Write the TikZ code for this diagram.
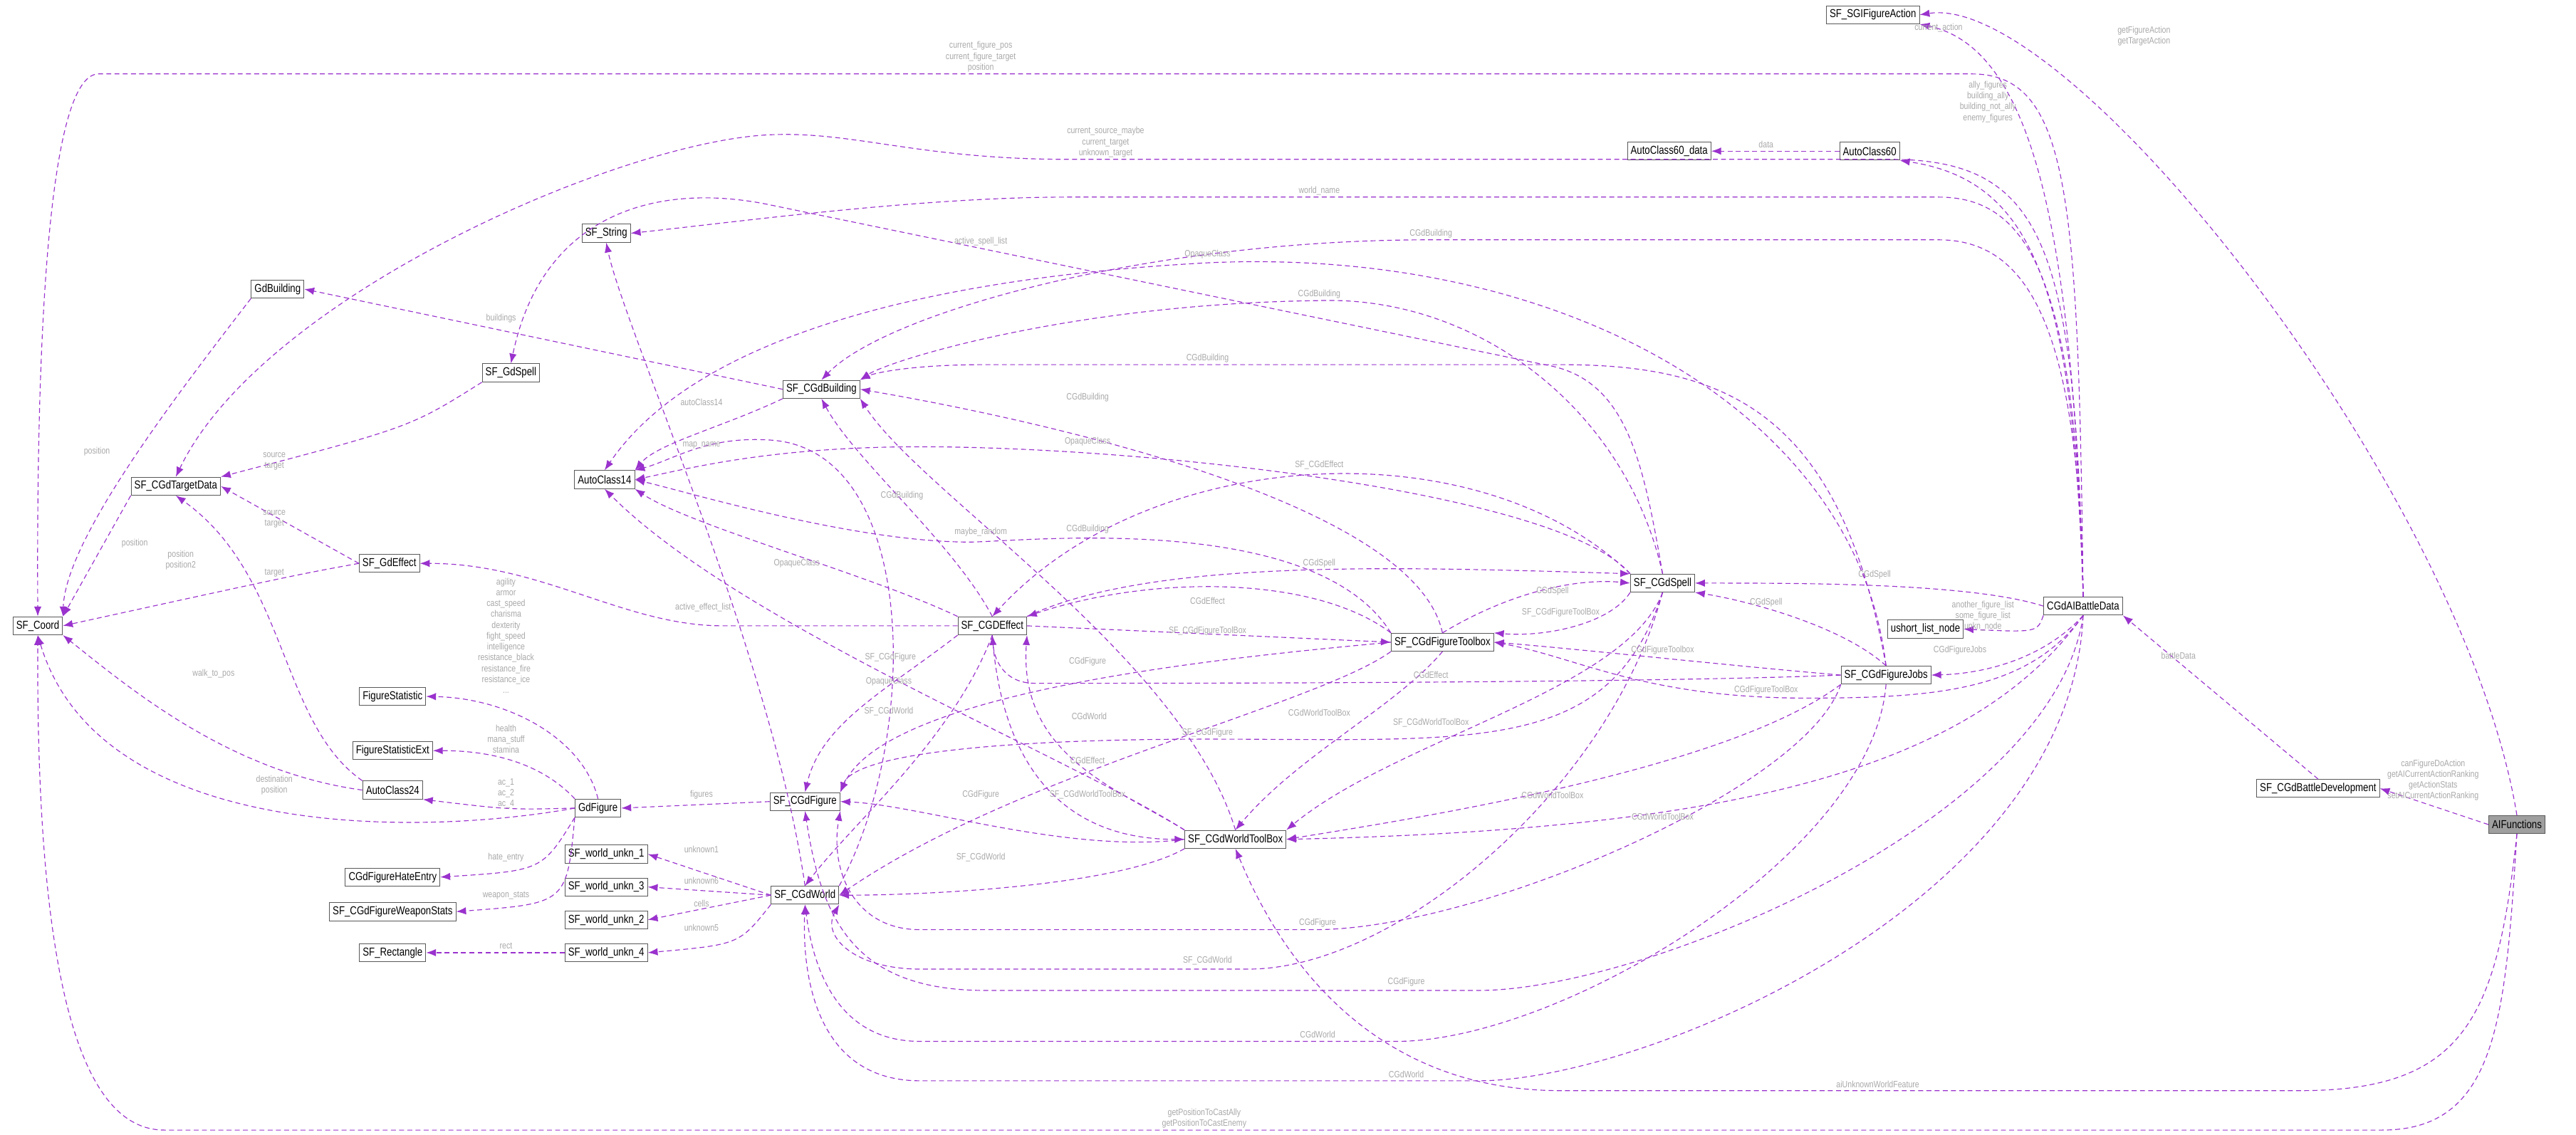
\documentclass[tikz,border=0pt]{standalone}
\usepackage{fontspec}
\setmainfont{Liberation Sans}[FakeStretch=0.82]
\usetikzlibrary{positioning, arrows.meta}
\definecolor{edgecol}{HTML}{9A32CD}
\definecolor{lblcol}{HTML}{A8A8A8}
\tikzset{
  cls/.style={draw=gray!70!black, fill=white, font=\fontsize{7}{8}\selectfont, inner sep=2pt, minimum height=11pt},
  dep/.style={edgecol, dash pattern=on 3pt off 2pt, line width=0.5pt, -{Latex[length=6pt,width=4.5pt]}},
  lbl/.style={font=\fontsize{5.6}{6.6}\selectfont, text=lblcol, align=center, inner sep=0pt}
}

\begin{document}
\begin{tikzpicture}[x=1pt, y=-1pt]

\useasboundingbox (0,0) rectangle (1568,691);

% classes
\node[cls] (sofa) at (1140,9) {SF\_SGIFigureAction};
\node[cls] (ac60d) at (1016,92) {AutoClass60\_data};
\node[cls] (ac60) at (1138,92) {AutoClass60};
\node[cls] (str) at (369,142) {SF\_String};
\node[cls] (gdb) at (169,176) {GdBuilding};
\node[cls] (gdspell) at (311,227) {SF\_GdSpell};
\node[cls] (cbld) at (500,237) {SF\_CGdBuilding};
\node[cls] (ac14) at (368,292) {AutoClass14};
\node[cls] (tgt) at (107,296) {SF\_CGdTargetData};
\node[cls] (gdeff) at (237,343) {SF\_GdEffect};
\node[cls] (coord) at (23,381) {SF\_Coord};
\node[cls] (ceff) at (604,381) {SF\_CGDEffect};
\node[cls] (cspell) at (1012,355) {SF\_CGdSpell};
\node[cls] (ftb) at (878,391) {SF\_CGdFigureToolbox};
\node[cls] (ushort) at (1172,383) {ushort\_list\_node};
\node[cls] (aibd) at (1268,369) {CGdAIBattleData};
\node[cls] (jobs) at (1148,411) {SF\_CGdFigureJobs};
\node[cls] (fstat) at (239,424) {FigureStatistic};
\node[cls] (fstatx) at (239,457) {FigureStatisticExt};
\node[cls] (ac24) at (239,481) {AutoClass24};
\node[cls] (gdfig) at (364,492) {GdFigure};
\node[cls] (cfig) at (490,488) {SF\_CGdFigure};
\node[cls] (wtb) at (752,511) {SF\_CGdWorldToolBox};
\node[cls] (hate) at (239,534) {CGdFigureHateEntry};
\node[cls] (wu1) at (369,520) {SF\_world\_unkn\_1};
\node[cls] (cworld) at (490,545) {SF\_CGdWorld};
\node[cls] (wstats) at (239,555) {SF\_CGdFigureWeaponStats};
\node[cls] (wu3) at (369,540) {SF\_world\_unkn\_3};
\node[cls] (wu2) at (369,560) {SF\_world\_unkn\_2};
\node[cls] (rect) at (239,580) {SF\_Rectangle};
\node[cls] (wu4) at (369,580) {SF\_world\_unkn\_4};
\node[cls] (bdev) at (1411,480) {SF\_CGdBattleDevelopment};
\node[cls, fill=gray!75] (aif) at (1532,502) {AIFunctions};

% top and right
\draw[dep] (aibd.north) .. controls (1262,150) and (1240,30) .. (sofa.south east);
\draw[dep] (aif.north) .. controls (1500,300) and (1260,-5) .. (sofa.east);
\draw[dep] (aibd.north) .. controls (1262,180) and (1240,110) .. (ac60.south east);
\draw[dep] (ac60) -- (ac60d);
\draw[dep] (aibd.north) .. controls (1265,120) and (1260,45) .. (1200,45) -- (60,45) .. controls (30,45) and (22,200) .. (coord.north);
\draw[dep] (aibd.north) .. controls (1263,150) and (1245,97) .. (1150,97) -- (650,97) .. controls (560,97) and (520,80) .. (470,82) .. controls (380,85) and (160,180) .. (tgt.north);
\draw[dep] (aibd.north) .. controls (1264,170) and (1235,120) .. (1180,120) -- (650,120) .. controls (560,120) and (450,135) .. (str.east);
\draw[dep] (aibd.north) .. controls (1265,200) and (1235,146) .. (1180,146) -- (870,146) .. controls (700,146) and (540,190) .. (cbld.north);
\draw[dep] (aibd.west) .. controls (1200,355) and (1100,355) .. (cspell.east);
\draw[dep] (aibd.south west) .. controls (1240,385) .. (ushort.east);
\draw[dep] (aibd.south) .. controls (1245,400) and (1210,410) .. (jobs.east);
\draw[dep] (aibd.south) .. controls (1235,420) and (1180,425) .. (1100,425) .. controls (1000,425) and (960,400) .. (ftb.east);
\draw[dep] (aibd.south) .. controls (1200,470) and (1050,505) .. (wtb.east);
\draw[dep] (aibd.south) .. controls (1250,500) and (1000,603) .. (900,603) -- (600,603) .. controls (520,603) and (500,560) .. (cfig.south);
\draw[dep] (aibd.south) .. controls (1260,550) and (1000,658) .. (900,658) -- (560,658) .. controls (500,658) and (488,600) .. (cworld.south);
\draw[dep] (aif.west) -- (bdev.east);
\draw[dep] (bdev.north) -- (aibd.south east);
\draw[dep] (aif.south) .. controls (1520,620) and (1500,664) .. (1400,664) -- (950,664) .. controls (820,664) and (770,560) .. (wtb.south);
\draw[dep] (aif.south) .. controls (1525,620) and (1520,688) .. (1450,688) -- (100,688) .. controls (50,688) and (22,600) .. (coord.south);

% jobs
\draw[dep] (jobs.south) .. controls (1140,520) and (950,634) .. (850,634) -- (560,634) .. controls (510,634) and (495,590) .. (cworld.south);
\draw[dep] (jobs.south west) .. controls (1100,480) and (900,566) .. (800,566) -- (560,566) .. controls (520,566) and (505,530) .. (cfig.south east);
\draw[dep] (jobs.north) .. controls (1120,380) and (1060,365) .. (cspell.south east);
\draw[dep] (jobs.west) .. controls (1050,405) and (960,395) .. (ftb.east);
\draw[dep] (jobs.west) .. controls (1000,416) and (700,416) .. (630,416) .. controls (610,416) and (605,400) .. (ceff.south);
\draw[dep] (jobs.south west) .. controls (1050,470) and (850,500) .. (wtb.east);
\draw[dep] (jobs.north) .. controls (1120,250) and (1050,222) .. (950,222) -- (600,222) .. controls (550,222) and (530,228) .. (cbld.north east);
\draw[dep] (jobs.north) .. controls (1130,250) and (950,150) .. (735,160) .. controls (550,170) and (420,210) .. (ac14.north);

% spell
\draw[dep] (cspell.south) .. controls (980,480) and (850,590) .. (760,590) -- (560,590) .. controls (520,590) and (500,570) .. (cworld.south east);
\draw[dep] (cspell.north) .. controls (1000,280) and (990,230) .. (940,222) -- (470,125) .. controls (400,110) and (330,130) .. (gdspell.north);
\draw[dep] (cspell.south west) .. controls (980,380) and (940,388) .. (ftb.north east);
\draw[dep] (cspell.north west) .. controls (900,260) and (700,270) .. (ceff.north);
\draw[dep] (cspell.north) .. controls (990,250) and (900,180) .. (803,183) .. controls (650,185) and (540,220) .. (cbld.north east);
\draw[dep] (cspell.north west) .. controls (950,300) and (700,272) .. (560,272) .. controls (470,272) and (420,285) .. (ac14.east);
\draw[dep] (cspell.south) .. controls (990,420) and (850,450) .. (wtb.north east);
\draw[dep] (cspell.south) .. controls (980,460) and (900,450) .. (735,450) .. controls (600,450) and (520,460) .. (cfig.north east);

% effect and toolboxes
\draw[dep] (ceff.west) -- (440,381) .. controls (380,381) and (330,343) .. (gdeff.east);
\draw[dep] (ceff.south west) .. controls (540,420) and (500,440) .. (cfig.north);
\draw[dep] (ceff.north) .. controls (580,330) and (520,280) .. (cbld.south);
\draw[dep] (ceff.north west) .. controls (530,350) and (420,320) .. (ac14.south east);
\draw[dep] (ceff.east) -- (ftb.west);
\draw[dep] (ceff.south) .. controls (580,450) and (520,500) .. (cworld.north);
\draw[dep] (ceff.south) .. controls (610,470) and (650,511) .. (wtb.west);
\draw[dep] (ceff.north east) .. controls (700,340) and (850,345) .. (cspell.north west);
\draw[dep] (ftb.north west) .. controls (800,350) and (700,350) .. (ceff.north east);
\draw[dep] (ftb.north) .. controls (920,360) and (960,352) .. (cspell.west);
\draw[dep] (ftb.west) .. controls (750,400) and (540,420) .. (cfig.north east);
\draw[dep] (ftb.south west) .. controls (800,430) and (620,470) .. (cworld.east);
\draw[dep] (ftb.south) .. controls (850,430) and (790,460) .. (wtb.north);
\draw[dep] (ftb.north) .. controls (860,300) and (600,250) .. (cbld.east);
\draw[dep] (ftb.north west) .. controls (800,310) and (620,330) .. (590,330) .. controls (520,330) and (420,300) .. (ac14.east);
\draw[dep] (wtb.north) .. controls (720,400) and (560,300) .. (cbld.south east);
\draw[dep] (wtb.north west) .. controls (650,460) and (450,380) .. (ac14.south);
\draw[dep] (wtb.west) .. controls (650,520) and (560,490) .. (cfig.east);
\draw[dep] (wtb.south west) .. controls (680,540) and (560,545) .. (cworld.east);
\draw[dep] (wtb.north west) .. controls (680,480) and (620,460) .. (ceff.south east);

% left side
\draw[dep] (cworld.north) .. controls (470,400) and (380,200) .. (str.south);
\draw[dep] (cworld.north east) .. controls (560,450) and (560,275) .. (470,268) .. controls (430,265) and (410,280) .. (ac14.north east);
\draw[dep] (cbld.west) -- (gdb.east);
\draw[dep] (cbld.south west) .. controls (440,260) and (400,270) .. (ac14.north east);
\draw[dep] (gdspell.south west) .. controls (250,260) .. (tgt.north east);
\draw[dep] (gdb.south west) .. controls (100,250) and (40,330) .. (coord.north east);
\draw[dep] (tgt.south west) -- (coord.north east);
\draw[dep] (gdeff.west) -- (tgt.east);
\draw[dep] (gdeff.west) .. controls (180,350) .. (coord.east);
\draw[dep] (ac24.north west) .. controls (170,440) and (175,350) .. (tgt.south);
\draw[dep] (ac24.west) .. controls (140,470) and (80,420) .. (coord.south east);
\draw[dep] (gdfig.west) .. controls (250,510) and (60,510) .. (coord.south);
\draw[dep] (gdfig.north) .. controls (355,450) and (310,425) .. (fstat.east);
\draw[dep] (gdfig.north west) .. controls (330,465) and (300,457) .. (fstatx.east);
\draw[dep] (gdfig.west) .. controls (310,493) .. (ac24.south east);
\draw[dep] (gdfig.south west) .. controls (330,530) .. (hate.east);
\draw[dep] (gdfig.south west) .. controls (345,550) .. (wstats.east);
\draw[dep] (cfig.west) -- (gdfig.east);
\draw[dep] (cworld.west) -- (wu1.east);
\draw[dep] (cworld.west) -- (wu3.east);
\draw[dep] (cworld.west) -- (wu2.east);
\draw[dep] (cworld.south west) .. controls (450,575) .. (wu4.east);
\draw[dep] (wu4.west) -- (rect.east);

% labels
\node[lbl] (lb1) at (1180,17) {current\_action};
\node[lbl] (lb2) at (1305,22) {getFigureAction\\getTargetAction};
\node[lbl] (lb3) at (1210,62) {ally\_figures\\building\_ally\\building\_not\_ally\\enemy\_figures};
\node[lbl] (lb4) at (1075,88) {data};
\node[lbl, anchor=south] (lb5) at (597,44) {current\_figure\_pos\\current\_figure\_target\\position};
\node[lbl, anchor=south] (lb6) at (673,96) {current\_source\_maybe\\current\_target\\unknown\_target};
\node[lbl, anchor=south] (lb7) at (803,119) {world\_name};
\node[lbl, anchor=south] (lb8) at (871,145) {CGdBuilding};
\node[lbl] (lb9) at (1141,350) {CGdSpell};
\node[lbl] (lb10) at (1207,375) {another\_figure\_list\\some\_figure\_list\\unkn\_node};
\node[lbl] (lb11) at (1193,396) {CGdFigureJobs};
\node[lbl] (lb12) at (1075,420) {CGdFigureToolBox};
\node[lbl] (lb13) at (1012,497) {CGdWorldToolBox};
\node[lbl] (lb14) at (856,598) {CGdFigure};
\node[lbl] (lb15) at (856,654) {CGdWorld};
\node[lbl] (lb16) at (1481,475) {canFigureDoAction\\getAICurrentActionRanking\\getActionStats\\setAICurrentActionRanking};
\node[lbl] (lb17) at (1326,399) {battleData};
\node[lbl] (lb18) at (1143,660) {aiUnknownWorldFeature};
\node[lbl, anchor=south] (lb19) at (733,687) {getPositionToCastAlly\\getPositionToCastEnemy};
\node[lbl] (lb20) at (802,630) {CGdWorld};
\node[lbl] (lb21) at (802,562) {CGdFigure};
\node[lbl] (lb22) at (1075,367) {CGdSpell};
\node[lbl] (lb23) at (1012,396) {CGdFigureToolbox};
\node[lbl] (lb24) at (871,411) {CGdEffect};
\node[lbl] (lb25) at (945,484) {CGdWorldToolBox};
\node[lbl] (lb26) at (735,218) {CGdBuilding};
\node[lbl] (lb27) at (735,155) {OpaqueClass};
\node[lbl] (lb28) at (735,585) {SF\_CGdWorld};
\node[lbl] (lb29) at (597,147) {active\_spell\_list};
\node[lbl] (lb30) at (950,373) {SF\_CGdFigureToolBox};
\node[lbl] (lb31) at (803,283) {SF\_CGdEffect};
\node[lbl] (lb32) at (803,179) {CGdBuilding};
\node[lbl] (lb33) at (662,269) {OpaqueClass};
\node[lbl] (lb34) at (871,440) {SF\_CGdWorldToolBox};
\node[lbl] (lb35) at (735,446) {SF\_CGdFigure};
\node[lbl] (lb36) at (428,370) {active\_effect\_list};
\node[lbl] (lb37) at (542,400) {SF\_CGdFigure};
\node[lbl] (lb38) at (549,302) {CGdBuilding};
\node[lbl] (lb39) at (485,343) {OpaqueClass};
\node[lbl] (lb40) at (735,384) {SF\_CGdFigureToolBox};
\node[lbl] (lb41) at (541,433) {SF\_CGdWorld};
\node[lbl] (lb42) at (662,484) {SF\_CGdWorldToolBox};
\node[lbl] (lb43) at (803,343) {CGdSpell};
\node[lbl] (lb44) at (735,366) {CGdEffect};
\node[lbl] (lb45) at (945,360) {CGdSpell};
\node[lbl] (lb46) at (662,403) {CGdFigure};
\node[lbl] (lb47) at (663,436) {CGdWorld};
\node[lbl] (lb48) at (803,434) {CGdWorldToolBox};
\node[lbl] (lb49) at (662,242) {CGdBuilding};
\node[lbl] (lb50) at (597,324) {maybe\_random};
\node[lbl] (lb51) at (662,322) {CGdBuilding};
\node[lbl] (lb52) at (541,415) {OpaqueClass};
\node[lbl] (lb53) at (597,484) {CGdFigure};
\node[lbl] (lb54) at (597,522) {SF\_CGdWorld};
\node[lbl] (lb55) at (662,463) {CGdEffect};
\node[lbl] (lb56) at (427,271) {map\_name};
\node[lbl] (lb57) at (305,194) {buildings};
\node[lbl] (lb58) at (427,245) {autoClass14};
\node[lbl] (lb59) at (167,281) {source\\target};
\node[lbl] (lb60) at (59,275) {position};
\node[lbl] (lb61) at (82,331) {position};
\node[lbl] (lb62) at (167,316) {source\\target};
\node[lbl] (lb63) at (110,341) {position\\position2};
\node[lbl] (lb64) at (167,349) {target};
\node[lbl] (lb65) at (130,410) {walk\_to\_pos};
\node[lbl] (lb66) at (167,478) {destination\\position};
\node[lbl] (lb67) at (308,387) {agility\\armor\\cast\_speed\\charisma\\dexterity\\fight\_speed\\intelligence\\resistance\_black\\resistance\_fire\\resistance\_ice\\...};
\node[lbl] (lb68) at (308,450) {health\\mana\_stuff\\stamina};
\node[lbl] (lb69) at (308,483) {ac\_1\\ac\_2\\ac\_4};
\node[lbl] (lb70) at (308,522) {hate\_entry};
\node[lbl] (lb71) at (308,545) {weapon\_stats};
\node[lbl] (lb72) at (427,484) {figures};
\node[lbl] (lb73) at (427,517) {unknown1};
\node[lbl] (lb74) at (427,536) {unknown6};
\node[lbl] (lb75) at (427,550) {cells};
\node[lbl] (lb76) at (427,565) {unknown5};
\node[lbl] (lb77) at (308,576) {rect};

\end{tikzpicture}
\end{document}
